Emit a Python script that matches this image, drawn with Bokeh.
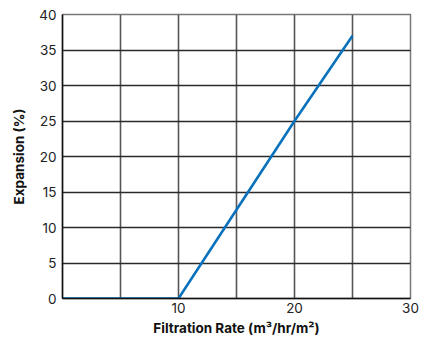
from bokeh.plotting import figure
from bokeh.models import FixedTicker, Range1d
from bokeh.embed import file_html
from bokeh.resources import INLINE

# data
rate = [0, 10, 15, 20, 25]
expansion = [0, 0, 12.5, 25, 37]
x_labels = [10, 20, 30]
x_grid = [0, 5, 10, 15, 20, 25, 30]
y_ticks = [0, 5, 10, 15, 20, 25, 30, 35, 40]

FONT = "Inter"

p = figure(width=428, height=338, output_backend="svg", toolbar_location=None,
           x_range=Range1d(0, 30), y_range=Range1d(0, 40),
           min_border_left=62, min_border_right=18, min_border_top=14, min_border_bottom=40)
p.background_fill_color = "white"
p.border_fill_color = "white"
p.outline_line_color = "#777777"
p.outline_line_width = 1.5

p.line(rate, expansion, line_color="#0a72bd", line_width=2.6)

p.xaxis.ticker = FixedTicker(ticks=x_labels)
p.yaxis.ticker = FixedTicker(ticks=y_ticks)
p.xgrid.ticker = FixedTicker(ticks=x_grid)
p.ygrid.ticker = FixedTicker(ticks=y_ticks)
p.xgrid.grid_line_color = "#555555"
p.ygrid.grid_line_color = "#2a2a2a"
p.xgrid.grid_line_width = 1.6
p.ygrid.grid_line_width = 1.4

for ax in (p.xaxis, p.yaxis):
    ax.major_tick_line_color = None
    ax.minor_tick_line_color = None
    ax.major_tick_out = 0
    ax.major_tick_in = 0
    ax.minor_tick_out = 0
    ax.axis_line_color = "#111111"
    ax.axis_line_width = 1.5
    ax.major_label_text_font = FONT
    ax.major_label_text_font_size = "13.5px"
    ax.major_label_text_color = "#222222"
    ax.axis_label_text_font = FONT
    ax.axis_label_text_font_style = "bold"
    ax.axis_label_text_font_size = "13.5px"
    ax.axis_label_text_color = "#111111"

p.xaxis.axis_label = "Filtration Rate (m³/hr/m²)"
p.yaxis.axis_label = "Expansion (%)"
p.xaxis.major_label_standoff = 4
p.xaxis.axis_label_standoff = 4
p.yaxis.major_label_standoff = 6
p.yaxis.axis_label_standoff = 9

open("out.html", "w").write(file_html(p, INLINE))
